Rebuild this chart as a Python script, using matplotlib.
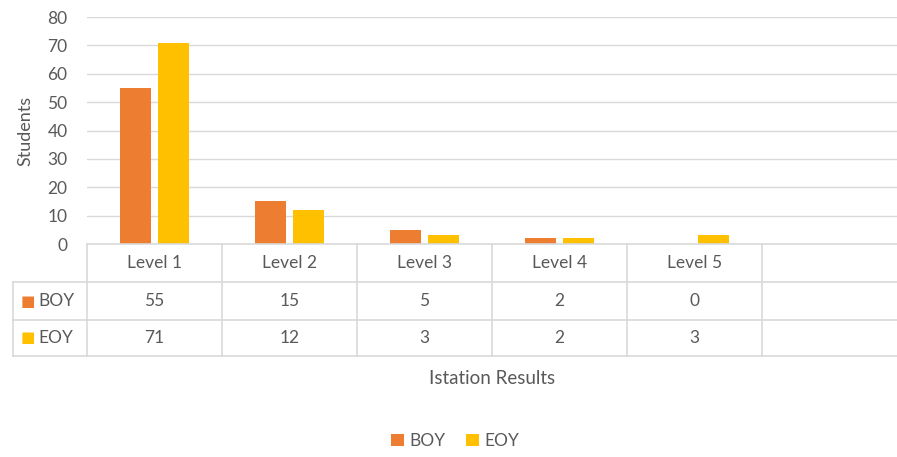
import matplotlib.pyplot as plt
import matplotlib.transforms as mtransforms
import numpy as np

# data
categories = ['Level 1', 'Level 2', 'Level 3', 'Level 4', 'Level 5', '']
boy = [55, 15, 5, 2, 0]
eoy = [71, 12, 3, 2, 3]
series_names = ['BOY', 'EOY']
colors = ['#ED7D31', '#FFC000']
text_color = '#595959'
grid_color = '#d9d9d9'

plt.rcParams['font.family'] = ['Lato', 'DejaVu Sans']
plt.rcParams['font.size'] = 12

W, H = 897, 457
fig = plt.figure(figsize=(W / 100, H / 100), dpi=100)

def fy(py):
    return 1 - py / H

ax = fig.add_axes([87 / W, fy(244), 1 - 87 / W, fy(17) - fy(244)])
x = np.arange(len(categories))
bw = 0.23
ax.bar(x[:len(boy)] - 0.142, boy, width=bw, color=colors[0], label=series_names[0])
ax.bar(x[:len(eoy)] + 0.142, eoy, width=bw, color=colors[1], label=series_names[1])
ax.set_xlim(-0.5, len(categories) - 0.5)
ax.set_ylim(0, 80)
ax.set_yticks(range(0, 81, 10))
ax.set_xticks([])
ax.grid(axis='y', color=grid_color, linewidth=1)
ax.set_axisbelow(True)
for s in ax.spines.values():
    s.set_visible(False)
ax.tick_params(axis='y', length=0, pad=14, colors=text_color, labelsize=12.5)
ax.set_ylabel('Students', color=text_color, fontsize=13, labelpad=10)

# data table
tr = mtransforms.blended_transform_factory(ax.transData, fig.transFigure)
lc = dict(color=grid_color, linewidth=1.2, transform=tr, clip_on=False)
left_label = -0.5 - (87 - 13) / 135.0
right_end = len(categories) - 0.5
rows_y = [fy(244), fy(282), fy(320), fy(356)]
# horizontal lines
ax.plot([-0.5, right_end], [rows_y[0]] * 2, **lc)
for yy in rows_y[1:]:
    ax.plot([left_label, right_end], [yy] * 2, **lc)
# vertical lines
for i in range(len(categories)):
    ax.plot([i - 0.5, i - 0.5], [rows_y[0], rows_y[3]], **lc)
ax.plot([left_label, left_label], [rows_y[1], rows_y[3]], **lc)

for i, c in enumerate(categories):
    ax.text(i, (rows_y[0] + rows_y[1]) / 2, c, transform=tr, ha='center', va='center',
            color=text_color, fontsize=12.5)
for r, vals in enumerate([boy, eoy]):
    ymid = (rows_y[r + 1] + rows_y[r + 2]) / 2
    for i, v in enumerate(vals):
        ax.text(i, ymid, str(v), transform=tr, ha='center', va='center',
                color=text_color, fontsize=12.5)
    ax.text(left_label + 0.06, ymid, '\u25A0', transform=tr, ha='left', va='center',
            color=colors[r], fontsize=11, family='DejaVu Sans')
    ax.text(left_label + 0.19, ymid, series_names[r], transform=tr, ha='left', va='center',
            color=text_color, fontsize=12.5)

fig.text((87 + W) / 2 / W, fy(378), 'Istation Results', ha='center', va='center',
         color=text_color, fontsize=13.5)

leg = fig.legend(loc='center', bbox_to_anchor=(455 / W, fy(441)), ncol=2, frameon=False,
                 handlelength=0.75, handleheight=0.75, handletextpad=0.3, columnspacing=1.2,
                 fontsize=12.5)
for t in leg.get_texts():
    t.set_color(text_color)

fig.savefig('out.png', dpi=100)
